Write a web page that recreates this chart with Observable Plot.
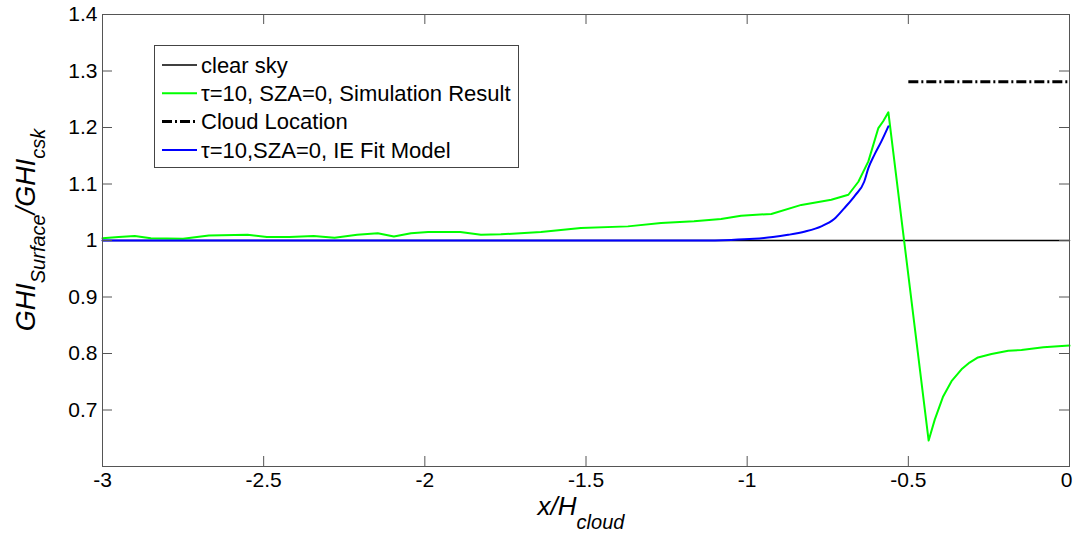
<!DOCTYPE html>
<html><head><meta charset="utf-8">
<script src="https://cdn.jsdelivr.net/npm/d3@7"></script>
<script src="https://cdn.jsdelivr.net/npm/@observablehq/plot@0.6"></script>
<style>body{margin:0;background:#fff}#chart{position:relative;width:1073px;height:533px}</style>
</head><body><div id="chart"></div>
<script>
const xTicks = [-3, -2.5, -2, -1.5, -1, -0.5, 0];
const yTicks = [0.7, 0.8, 0.9, 1, 1.1, 1.2, 1.3, 1.4];

const clearSkyX = [-3, 0];
const clearSkyY = [1, 1];

const simX = [-3, -2.95, -2.9, -2.85, -2.75, -2.67, -2.55, -2.49, -2.42, -2.345, -2.28, -2.21, -2.146, -2.096, -2.043, -1.99, -1.89, -1.826, -1.764, -1.64, -1.516, -1.37, -1.267, -1.165, -1.081, -1.019, -0.925, -0.832, -0.739, -0.686, -0.655, -0.624, -0.593, -0.578, -0.562, -0.437, -0.418, -0.392, -0.366, -0.335, -0.310, -0.284, -0.242, -0.190, -0.149, -0.081, -0.035, 0];
const simY = [1.004, 1.006, 1.008, 1.004, 1.003, 1.009, 1.010, 1.006, 1.006, 1.008, 1.005, 1.010, 1.013, 1.007, 1.013, 1.015, 1.015, 1.010, 1.011, 1.015, 1.022, 1.025, 1.031, 1.034, 1.038, 1.044, 1.047, 1.063, 1.072, 1.081, 1.104, 1.140, 1.199, 1.211, 1.227, 0.646, 0.683, 0.724, 0.751, 0.772, 0.784, 0.793, 0.799, 0.805, 0.806, 0.811, 0.813, 0.814];

const fitX = [-3, -1.15, -1.05, -0.978, -0.92, -0.873, -0.82, -0.77, -0.73, -0.699, -0.665, -0.637, -0.624, -0.605, -0.584, -0.562];
const fitY = [1, 1, 1.001, 1.003, 1.006, 1.010, 1.016, 1.025, 1.038, 1.057, 1.080, 1.104, 1.128, 1.152, 1.175, 1.202];

const cloudX = [-0.5, 0];
const cloudY = [1.281, 1.281];

const legendLabels = ["clear sky", "τ=10, SZA=0, Simulation Result", "Cloud Location", "τ=10,SZA=0, IE Fit Model"];

const zip = (xs, ys) => xs.map((x, i) => ({x, y: ys[i]}));
const clearSky = zip(clearSkyX, clearSkyY);
const sim = zip(simX, simY);
const fit = zip(fitX, fitY);
const cloud = zip(cloudX, cloudY);

const FONT = "'Liberation Sans', Arial, Helvetica, sans-serif";
const AX = "#555";
const W = 1073, H = 533, ML = 102, MR = 4, MT = 14, MB = 67;
const PW = W - ML - MR, PH = H - MT - MB;
const fmt = d => String(d);

const plot = Plot.plot({
  width: W, height: H,
  marginLeft: ML, marginRight: MR, marginTop: MT, marginBottom: MB,
  x: {domain: [-3, 0]},
  y: {domain: [0.6, 1.4]},
  style: {fontFamily: FONT, fontSize: "21px", background: "white", color: "black", overflow: "visible"},
  marks: [
    Plot.line(clearSky, {x: "x", y: "y", stroke: "black", strokeWidth: 1.5}),
    Plot.line(sim, {x: "x", y: "y", stroke: "#00ff00", strokeWidth: 2}),
    Plot.line(cloud, {x: "x", y: "y", stroke: "black", strokeWidth: 3, strokeDasharray: "10,3,2,3", strokeLinecap: "butt"}),
    Plot.line(fit, {x: "x", y: "y", stroke: "#0000ff", strokeWidth: 2, curve: "monotone-x"}),
    Plot.frame({stroke: AX}),
    Plot.gridX(xTicks, {stroke: AX, strokeOpacity: 1, insetTop: PH - 10}),
    Plot.gridX(xTicks, {stroke: AX, strokeOpacity: 1, insetBottom: PH - 10}),
    Plot.gridY(yTicks, {stroke: AX, strokeOpacity: 1, insetRight: PW - 10}),
    Plot.gridY(yTicks, {stroke: AX, strokeOpacity: 1, insetLeft: PW - 10}),
    Plot.axisX(xTicks.slice(0, -1), {anchor: "bottom", tickSize: 0, tickPadding: 6, tickFormat: fmt, label: null}),
    Plot.axisX(xTicks.slice(-1), {anchor: "bottom", tickSize: 0, tickPadding: 6, tickFormat: fmt, label: null, dx: -3}),
    Plot.axisY(yTicks, {anchor: "left", tickSize: 0, tickPadding: 5, tickFormat: fmt, label: null})
  ]
});
document.getElementById("chart").appendChild(plot);

const svg = d3.select(plot);
// y label
const yl = svg.append("text")
  .attr("transform", "translate(35,230) rotate(-90)")
  .attr("text-anchor", "middle")
  .attr("fill", "black")
  .style("font-family", FONT).style("font-style", "italic").style("font-size", "27px");
yl.append("tspan").text("GHI");
yl.append("tspan").attr("dy", 10).style("font-size", "20px").text("Surface");
yl.append("tspan").attr("dy", -10).text("/GHI");
yl.append("tspan").attr("dy", 10).style("font-size", "20px").text("csk");
// x label
const xl = svg.append("text")
  .attr("transform", "translate(581,515)")
  .attr("text-anchor", "middle")
  .attr("fill", "black")
  .style("font-family", FONT).style("font-style", "italic").style("font-size", "26px");
xl.append("tspan").text("x/H");
xl.append("tspan").attr("dy", 14).style("font-size", "20px").text("cloud");

// legend
const lg = svg.append("g");
lg.append("rect").attr("x", 154.5).attr("y", 45.5).attr("width", 364).attr("height", 122)
  .attr("fill", "white").attr("stroke", "#444").attr("stroke-width", 1);
const styles = [
  {stroke: "black", w: 1.5, dash: null},
  {stroke: "#00ff00", w: 2, dash: null},
  {stroke: "black", w: 3, dash: "10,3,2,3"},
  {stroke: "#0000ff", w: 2, dash: null}
];
legendLabels.forEach((t, i) => {
  const cy = 65 + i * 28.3;
  lg.append("line").attr("x1", 162).attr("x2", 197).attr("y1", cy).attr("y2", cy)
    .attr("stroke", styles[i].stroke).attr("stroke-width", styles[i].w)
    .attr("stroke-dasharray", styles[i].dash);
  lg.append("text").attr("x", 201).attr("y", cy).attr("dy", "0.35em")
    .attr("text-anchor", "start")
    .attr("fill", "black").style("font-family", FONT).style("font-size", "22px").text(t);
});
</script>
</body></html>
